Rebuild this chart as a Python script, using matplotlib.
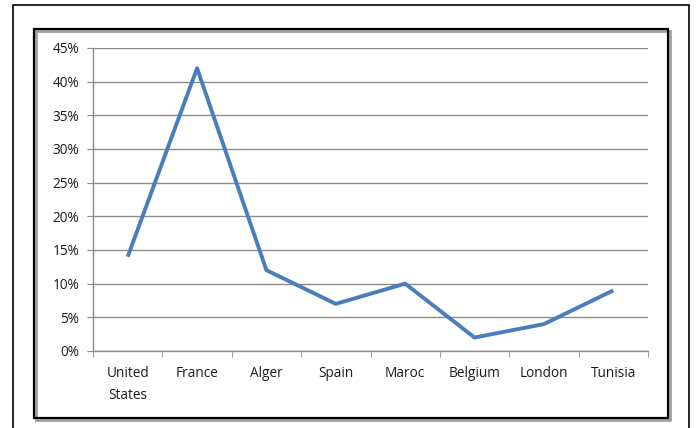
import matplotlib
matplotlib.use("Agg")
import matplotlib.pyplot as plt
from matplotlib.patches import Rectangle
from matplotlib.ticker import FixedLocator

countries = ["United\nStates", "France", "Alger", "Spain", "Maroc", "Belgium", "London", "Tunisia"]
shares = [14, 42, 12, 7, 10, 2, 4, 9]
y_ticks = [0, 5, 10, 15, 20, 25, 30, 35, 40, 45]

W, H = 696, 428
fig = plt.figure(figsize=(W / 100, H / 100), dpi=100)
fig.patch.set_facecolor("white")

def box(x0, y0, x1, y1, **kw):
    # pixel coords, origin top-left
    r = Rectangle((x0 / W, 1 - y1 / H), (x1 - x0) / W, (y1 - y0) / H,
                  transform=fig.transFigure, fill=False, **kw)
    fig.add_artist(r)

# outer frame
box(13, 5, 689, 432, edgecolor="black", linewidth=1.2)
# inner chart frame with a soft shadow
box(36, 31, 670, 420, edgecolor="#a0a0a0", linewidth=2)
box(34, 29, 668, 418, edgecolor="black", linewidth=1.6)

ax = fig.add_axes([93 / W, 1 - 351 / H, (648 - 93) / W, (351 - 48) / H])
x = list(range(len(countries)))
ax.plot(x, shares, color="#4a7ebb", linewidth=2.8, solid_joinstyle="round",
        solid_capstyle="butt")

ax.set_xlim(-0.5, len(countries) - 0.5)
ax.set_ylim(0, 45)
ax.set_yticks(y_ticks)
ax.set_yticklabels([f"{v}%" for v in y_ticks])
ax.set_xticks(x)
ax.set_xticklabels(countries, linespacing=1.6)
ax.xaxis.set_minor_locator(FixedLocator([i - 0.5 for i in range(len(countries) + 1)]))

ax.grid(axis="y", color="#8c8c8c", linewidth=1)
ax.set_axisbelow(True)
for s in ["top", "right"]:
    ax.spines[s].set_visible(False)
for s in ["left", "bottom"]:
    ax.spines[s].set_color("#8c8c8c")
    ax.spines[s].set_linewidth(1)

ax.tick_params(axis="x", which="major", length=0, pad=11, labelsize=9.8,
               labelcolor="#1a1a1a")
ax.tick_params(axis="x", which="minor", length=4, color="#8c8c8c", direction="out")
ax.tick_params(axis="y", length=4, color="#8c8c8c", pad=6, labelsize=9.8,
               labelcolor="#1a1a1a")
for lab in ax.get_xticklabels() + ax.get_yticklabels():
    lab.set_fontfamily("Open Sans")

fig.savefig("out.png", dpi=100)
